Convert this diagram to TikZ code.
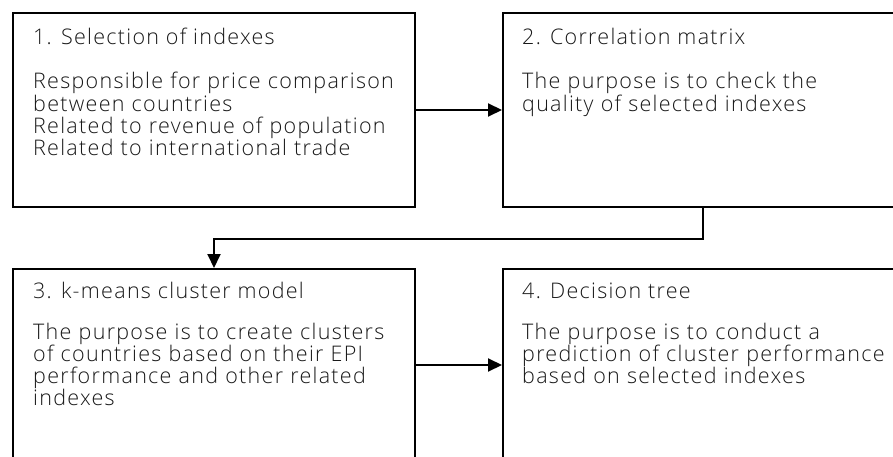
\documentclass[tikz,border=0pt]{standalone}
\usepackage{fontspec}
\IfFontExistsTF{Open Sans Light}{\setmainfont{Open Sans Light}[LetterSpace=6]}{\setmainfont{Open Sans}}
\usetikzlibrary{arrows.meta}
\begin{document}
\begin{tikzpicture}[x=1pt,y=-1pt,
  box/.style={draw=black, line width=2pt, rectangle, inner sep=0pt, anchor=north west},
  title/.style={anchor=base west, inner sep=0pt, font=\fontsize{21.5}{22.3}\selectfont, text=black!90},
  body/.style={anchor=base west, inner sep=0pt, text width=385pt, align=left, font=\fontsize{21.5}{22.3}\selectfont, text=black!90},
  conn/.style={draw=black, line width=2pt, -{Triangle[length=14pt,width=13pt]}}]
\path[use as bounding box] (0,0) rectangle (893,457);
\clip (0,0) rectangle (893,457);
\node[box, minimum width=402pt, minimum height=194pt] (b1) at (12,12) {};
\node[box, minimum width=400pt, minimum height=194pt] (b2) at (502,12) {};
\node[box, minimum width=402pt, minimum height=192pt] (b3) at (12,268) {};
\node[box, minimum width=400pt, minimum height=192pt] (b4) at (502,268) {};
\node[title] (t1) at (33,45) {1. Selection of indexes};
\node[body] (d1) at (33,89) {Responsible for price comparison\\between countries\\Related to revenue of population\\Related to international trade};
\node[title] (t2) at (522,45) {2. Correlation matrix};
\node[body] (d2) at (522,89) {The purpose is to check the\\quality of selected indexes};
\node[title] (t3) at (33,298) {3. k-means cluster model};
\node[body] (d3) at (33,339) {The purpose is to create clusters\\of countries based on their EPI\\performance and other related\\indexes};
\node[title] (t4) at (522,298) {4. Decision tree};
\node[body] (d4) at (522,339) {The purpose is to conduct a\\prediction of cluster performance\\based on selected indexes};
\draw[conn] (b1.east) -- (b2.west);
\draw[conn] (b2.south) -- ++(0,31) -| (b3.north);
\draw[conn] (b3.east) -- (b4.west);
\end{tikzpicture}
\end{document}
